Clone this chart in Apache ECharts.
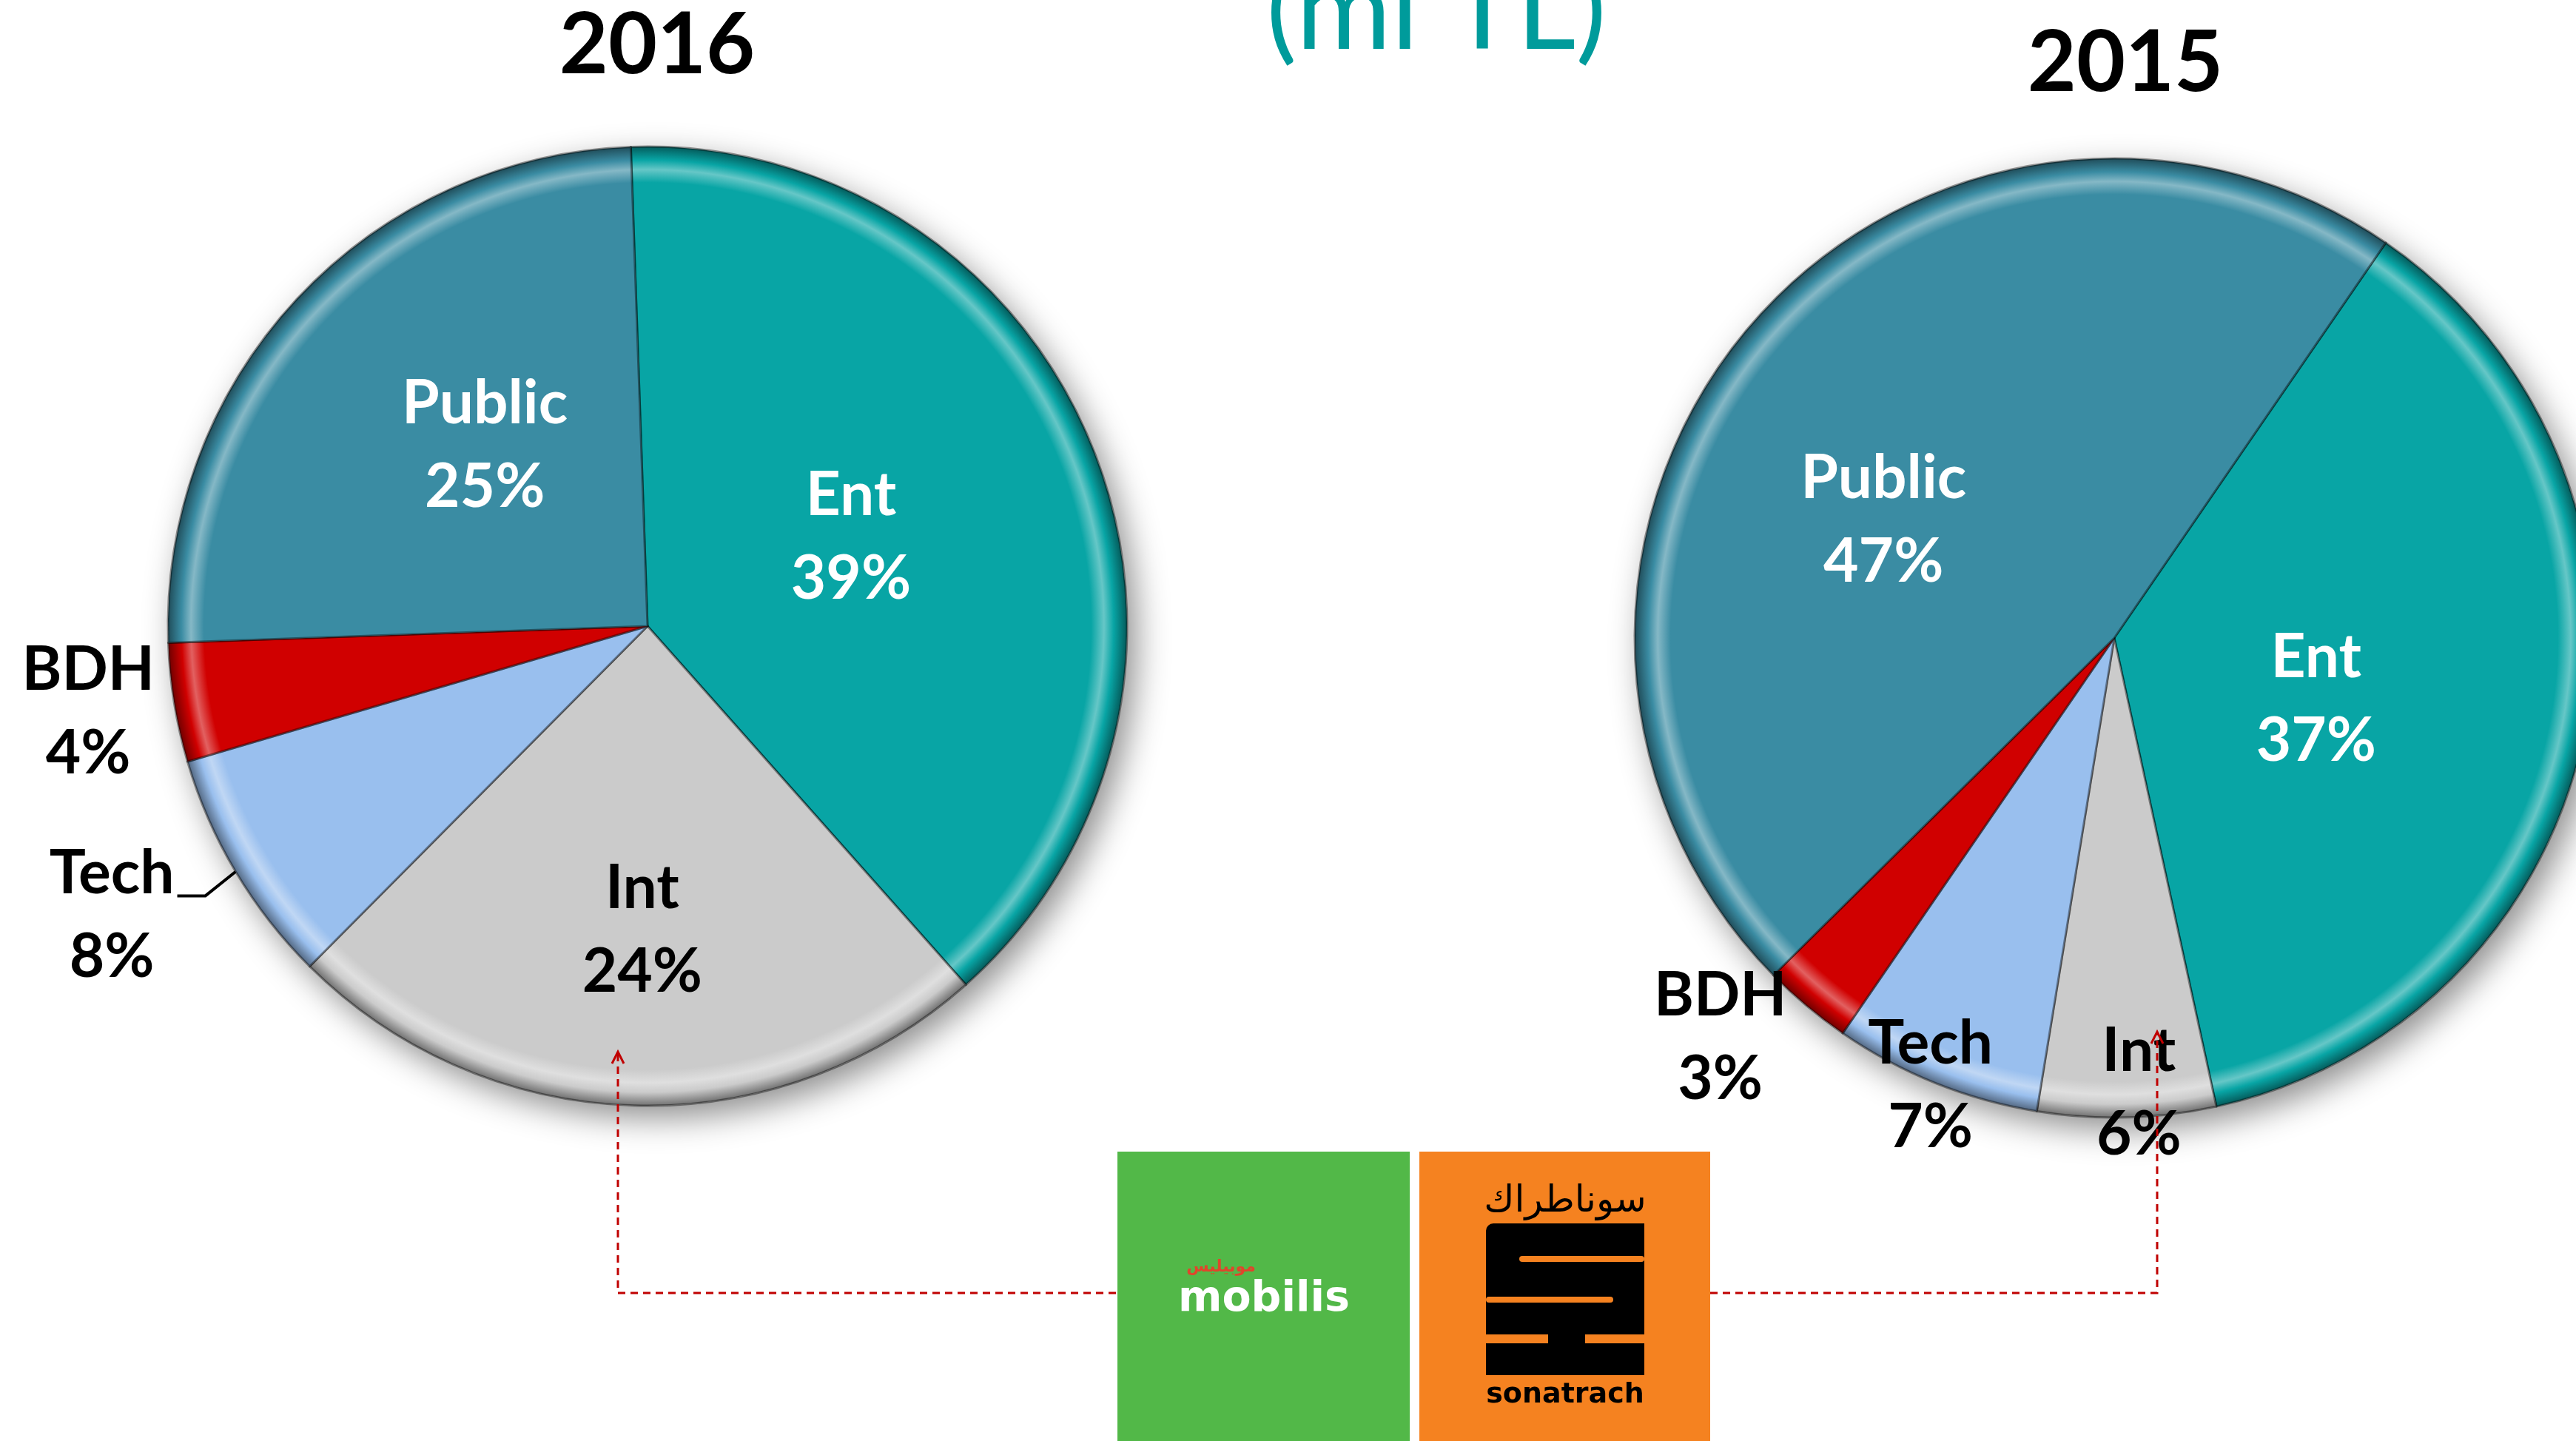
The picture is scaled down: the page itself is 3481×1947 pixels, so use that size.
<!DOCTYPE html>
<html>
<head>
<meta charset="utf-8">
<script src="https://cdn.jsdelivr.net/npm/echarts@6/dist/echarts.min.js"></script>
<style>
html, body { margin: 0; padding: 0; background: #ffffff; }
#revenue-pie-chart { width: 3481px; height: 1947px; }
</style>
</head>
<body>
<div id="revenue-pie-chart"></div>
<script>
// data (percent of revenue)
const categories = ['Ent', 'Int', 'Tech', 'BDH', 'Public'];
const share2016 = [39, 24, 8, 4, 25];
const share2015 = [37, 6, 7, 3, 47];
const yearLabels = ['2016', '2015'];
const unitLabel = '(mi TL)';

const revenueChart = echarts.init(document.getElementById('revenue-pie-chart'));

// styles
const sliceColors = ['#08A5A5', '#CBCBCB', '#99BFEE', '#D00000', '#3A8CA3'];
const labelColors = ['#ffffff', '#000000', '#000000', '#000000', '#ffffff'];
const labelFont = 'Lato, "Open Sans", sans-serif';

// pie geometry
const pieRadius = 648;
const center2016 = [875, 846];
const center2015 = [2857, 862];
const start2016 = 92;
const start2015 = 55.5;
// label spot per slice: [turn from mid angle (deg), distance as part of radius]
const labelSpot2016 = [[1.8, 0.463], [0.6, 0.634], [-2.4, 1.27], [-0.5, 1.18], [-5, 0.507]];
const labelSpot2015 = [[-5.8, 0.44], [1.6, 0.95], [-0.4, 1.01], [-4.7, 1.17], [12.9, 0.54]];

function shade(hex, amount) {
    // amount > 0 mixes with white, < 0 with black
    const n = parseInt(hex.slice(1), 16);
    let rgb = [(n >> 16) & 255, (n >> 8) & 255, n & 255];
    rgb = rgb.map(function (c) {
        return Math.round(amount > 0 ? c + (255 - c) * amount : c * (1 + amount));
    });
    return 'rgb(' + rgb.join(',') + ')';
}

// fake bevel: a bright band and a dark rim near the outer edge
function bevel(base, center) {
    return {
        type: 'radial', global: true,
        x: center[0], y: center[1], r: pieRadius,
        colorStops: [
            {offset: 0, color: base},
            {offset: 0.925, color: base},
            {offset: 0.952, color: shade(base, 0.38)},
            {offset: 0.972, color: base},
            {offset: 1, color: shade(base, -0.45)}
        ]
    };
}

function buildData(values, center, leaderIndex) {
    return categories.map(function (name, i) {
        const item = {
            name: name,
            value: values[i],
            itemStyle: {color: bevel(sliceColors[i], center)},
            label: {color: labelColors[i]}
        };
        if (i === leaderIndex) {
            item.label.position = 'outside';
            item.labelLine = {show: true, length: 20, length2: 40, lineStyle: {color: '#000', width: 4}};
        }
        return item;
    });
}

function placeLabels(values, center, startAngle, spots, leaderIndex) {
    const total = values.reduce(function (a, b) { return a + b; }, 0);
    return function (params) {
        const i = params.dataIndex;
        let before = 0;
        for (let k = 0; k < i; k++) before += values[k];
        const mid = startAngle - (before + values[i] / 2) / total * 360;
        const rad = (mid + spots[i][0]) * Math.PI / 180;
        const dist = spots[i][1] * pieRadius;
        const x = center[0] + dist * Math.cos(rad);
        const y = center[1] - dist * Math.sin(rad);
        const out = {x: x, y: y, align: 'center', verticalAlign: 'middle'};
        if (i === leaderIndex) {
            // leader from the foot of the first text line to the pie edge
            const x0 = x + params.labelRect.width / 2 + 4;
            const y0 = y - 27;
            const midRad = mid * Math.PI / 180;
            out.labelLinePoints = [
                [x0, y0],
                [x0 + 38, y0],
                [center[0] + pieRadius * Math.cos(midRad), center[1] - pieRadius * Math.sin(midRad)]
            ];
        }
        return out;
    };
}

function shadowDisc(center) {
    return {
        type: 'pie', silent: true, z: 1,
        center: center, radius: pieRadius,
        label: {show: false}, labelLine: {show: false},
        itemStyle: {color: '#ffffff', shadowBlur: 45, shadowColor: 'rgba(0,0,0,0.45)', shadowOffsetX: 12, shadowOffsetY: 16},
        data: [{name: '', value: 1}]
    };
}

function pieSeries(name, values, center, startAngle, spots, leaderIndex) {
    return {
        name: name,
        type: 'pie', z: 2,
        center: center, radius: pieRadius,
        startAngle: startAngle, clockwise: true,
        avoidLabelOverlap: false,
        label: {
            show: true, position: 'inside',
            formatter: '{b}\n{c}%',
            fontFamily: labelFont, fontWeight: 'bold', fontSize: 82, lineHeight: 113
        },
        labelLine: {show: false},
        labelLayout: placeLabels(values, center, startAngle, spots, leaderIndex),
        itemStyle: {borderColor: 'rgba(0,0,0,0.4)', borderWidth: 3},
        emphasis: {disabled: true},
        data: buildData(values, center, leaderIndex)
    };
}

const dash = {stroke: '#C00000', lineWidth: 3, lineDash: [10, 7], fill: null};
const arrowHead = {stroke: '#C00000', lineWidth: 3, fill: null};

const option = {
    animation: false,
    backgroundColor: '#ffffff',
    series: [
        shadowDisc(center2016),
        pieSeries(yearLabels[0], share2016, center2016, start2016, labelSpot2016, 2),
        shadowDisc(center2015),
        pieSeries(yearLabels[1], share2015, center2015, start2015, labelSpot2015, -1)
    ],
    graphic: [
        {type: 'text', z: 50, style: {text: yearLabels[0], x: 888, y: 62, align: 'center', verticalAlign: 'middle',
            font: 'bold 114px ' + labelFont, fill: '#000'}},
        {type: 'text', z: 50, style: {text: yearLabels[1], x: 2872, y: 86, align: 'center', verticalAlign: 'middle',
            font: 'bold 114px ' + labelFont, fill: '#000'}},
        {type: 'text', z: 50, style: {text: unitLabel, x: 1941, y: 16, align: 'center', verticalAlign: 'middle',
            font: '156px ' + labelFont, fill: '#009B9B'}},

        // logos
        {type: 'rect', z: 40, shape: {x: 1510, y: 1556, width: 395, height: 391}, style: {fill: '#52B848'}},
        {type: 'text', z: 41, style: {text: 'موبيليس', x: 1650, y: 1712, align: 'center', verticalAlign: 'middle',
            font: 'bold 22px "DejaVu Sans"', fill: '#E0452B'}},
        {type: 'text', z: 41, style: {text: 'mobilis', x: 1708, y: 1756, align: 'center', verticalAlign: 'middle',
            font: 'bold 57px "DejaVu Sans"', fill: '#ffffff'}},
        {type: 'rect', z: 40, shape: {x: 1918, y: 1556, width: 393, height: 391}, style: {fill: '#F58220'}},
        {type: 'text', z: 41, style: {text: 'سوناطراك', x: 2115, y: 1624, align: 'center', verticalAlign: 'middle',
            font: '50px "DejaVu Sans"', fill: '#000'}},
        {type: 'rect', z: 41, shape: {x: 2008, y: 1653, width: 214, height: 205, r: [10, 0, 0, 0]}, style: {fill: '#000'}},
        {type: 'rect', z: 42, shape: {x: 2053, y: 1697, width: 169, height: 8, r: 4}, style: {fill: '#F58220'}},
        {type: 'rect', z: 42, shape: {x: 2008, y: 1752, width: 172, height: 8, r: 4}, style: {fill: '#F58220'}},
        {type: 'rect', z: 42, shape: {x: 2008, y: 1803, width: 84, height: 12}, style: {fill: '#F58220'}},
        {type: 'rect', z: 42, shape: {x: 2142, y: 1803, width: 80, height: 12}, style: {fill: '#F58220'}},
        {type: 'text', z: 41, style: {text: 'sonatrach', x: 2115, y: 1885, align: 'center', verticalAlign: 'middle',
            font: 'bold 38px "DejaVu Sans"', fill: '#000'}},

        // dashed connectors
        {type: 'polyline', z: 60, shape: {points: [[835, 1424], [835, 1747], [1510, 1747]]}, style: dash},
        {type: 'polyline', z: 60, shape: {points: [[827, 1437], [835, 1421], [843, 1437]]}, style: arrowHead},
        {type: 'polyline', z: 60, shape: {points: [[2311, 1747], [2915, 1747], [2915, 1397]]}, style: dash},
        {type: 'polyline', z: 60, shape: {points: [[2907, 1410], [2915, 1394], [2923, 1410]]}, style: arrowHead}
    ]
};

revenueChart.setOption(option);
</script>
</body>
</html>
